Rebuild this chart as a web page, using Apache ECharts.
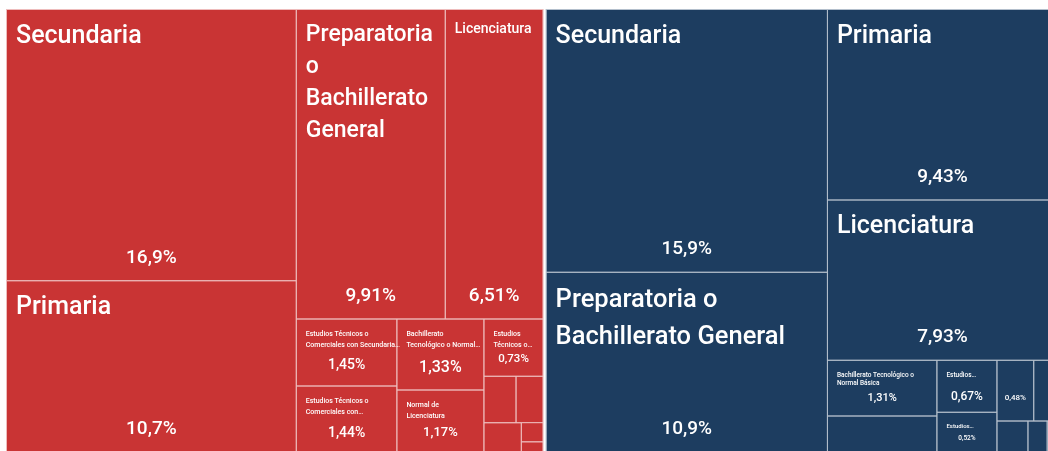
<!DOCTYPE html>
<html>
<head>
<meta charset="utf-8">
<script src="https://cdn.jsdelivr.net/npm/echarts@6/dist/echarts.min.js"></script>
<style>
html, body { margin: 0; padding: 0; background: #fff; }
#chart { width: 1048px; height: 451px; }
</style>
</head>
<body>
<div id="chart"></div>
<script>
var grupos = ['Mujeres', 'Hombres'];

var nivelesMujeres = [
    'Secundaria',
    'Primaria',
    'Preparatoria o Bachillerato General',
    'Licenciatura',
    'Estudios Técnicos o Comerciales con Secundaria Terminada',
    'Estudios Técnicos o Comerciales con Preparatoria Terminada',
    'Bachillerato Tecnológico o Normal Básica',
    'Normal de Licenciatura',
    'Estudios Técnicos o Comerciales con Primaria Terminada',
    'Maestría',
    'Preescolar',
    'Ninguno',
    'Especialidad',
    'Doctorado'
];
var valoresMujeres = [16.9, 10.7, 9.91, 6.51, 1.45, 1.44, 1.33, 1.17, 0.73, 0.32, 0.27, 0.24, 0.09, 0.05];

var nivelesHombres = [
    'Secundaria',
    'Preparatoria o Bachillerato General',
    'Primaria',
    'Licenciatura',
    'Bachillerato Tecnológico o Normal Básica',
    'Normal de Licenciatura',
    'Estudios Técnicos o Comerciales con Preparatoria Terminada',
    'Estudios Técnicos o Comerciales con Secundaria Terminada',
    'Maestría',
    'Ninguno',
    'Preescolar',
    'Especialidad',
    'Doctorado'
];
var valoresHombres = [15.9, 10.9, 9.43, 7.93, 1.31, 0.86, 0.67, 0.52, 0.48, 0.31, 0.21, 0.13, 0.07];

// texto visible de cada celda (como aparece, con cortes de linea)
var etiquetas = {
    'Mujeres|Secundaria': 'Secundaria',
    'Mujeres|Primaria': 'Primaria',
    'Mujeres|Preparatoria o Bachillerato General': 'Preparatoria\no\nBachillerato\nGeneral',
    'Mujeres|Licenciatura': 'Licenciatura',
    'Mujeres|Estudios Técnicos o Comerciales con Secundaria Terminada': 'Estudios Técnicos o\nComerciales con Secundaria…',
    'Mujeres|Estudios Técnicos o Comerciales con Preparatoria Terminada': 'Estudios Técnicos o\nComerciales con…',
    'Mujeres|Bachillerato Tecnológico o Normal Básica': 'Bachillerato\nTecnológico o Normal…',
    'Mujeres|Normal de Licenciatura': 'Normal de\nLicenciatura',
    'Mujeres|Estudios Técnicos o Comerciales con Primaria Terminada': 'Estudios\nTécnicos o…',
    'Hombres|Secundaria': 'Secundaria',
    'Hombres|Preparatoria o Bachillerato General': 'Preparatoria o\nBachillerato General',
    'Hombres|Primaria': 'Primaria',
    'Hombres|Licenciatura': 'Licenciatura',
    'Hombres|Bachillerato Tecnológico o Normal Básica': 'Bachillerato Tecnológico o\nNormal Básica',
    'Hombres|Estudios Técnicos o Comerciales con Preparatoria Terminada': 'Estudios…',
    'Hombres|Estudios Técnicos o Comerciales con Secundaria Terminada': 'Estudios…'
};

// [tam. nombre, alto linea, tam. valor, distancia valor al borde inferior]
var estilos = {
    'Mujeres|Secundaria': [25, 35, 19, 8],
    'Mujeres|Primaria': [25, 35, 19, 8],
    'Mujeres|Preparatoria o Bachillerato General': [23, 32, 19, 8],
    'Mujeres|Licenciatura': [14, 20, 19, 8],
    'Mujeres|Estudios Técnicos o Comerciales con Secundaria Terminada': [7, 10.5, 14, 8],
    'Mujeres|Estudios Técnicos o Comerciales con Preparatoria Terminada': [7, 10.5, 14, 7],
    'Mujeres|Bachillerato Tecnológico o Normal Básica': [7, 10.5, 16, 8],
    'Mujeres|Normal de Licenciatura': [7, 10.5, 13, 7.5],
    'Mujeres|Estudios Técnicos o Comerciales con Primaria Terminada': [7, 10.5, 11.5, 6],
    'Hombres|Secundaria': [25, 35, 19, 8],
    'Hombres|Preparatoria o Bachillerato General': [25.5, 37, 19, 8],
    'Hombres|Primaria': [25, 35, 19, 8],
    'Hombres|Licenciatura': [25, 35, 19, 8],
    'Hombres|Bachillerato Tecnológico o Normal Básica': [6.5, 8.5, 11, 7],
    'Hombres|Estudios Técnicos o Comerciales con Preparatoria Terminada': [6.5, 9, 12, 3.5],
    'Hombres|Estudios Técnicos o Comerciales con Secundaria Terminada': [6, 8, 6.5, 5],
    'Hombres|Maestría': [0, 0, 8, 14]
};

var colores = ['#c93434', '#1d3d60'];
var lineas = ['#eebcbc', '#b3bfcc'];
var fuente = "Roboto, 'DejaVu Sans Condensed', sans-serif";

function pct(v) {
    return String(parseFloat(v.toPrecision(3))).replace('.', ',') + '%';
}

// conValor = false -> serie de fondo con nombres; true -> capa transparente con el porcentaje
function armarDatos(conValor) {
    var listas = [[nivelesMujeres, valoresMujeres], [nivelesHombres, valoresHombres]];
    return grupos.map(function (g, gi) {
        var hijos = listas[gi][0].map(function (n, i) {
            var key = g + '|' + n;
            var e = estilos[key];
            var label;
            if (!conValor) {
                label = e && e[0] > 0 ? {
                    show: true,
                    formatter: etiquetas[key],
                    fontSize: e[0],
                    lineHeight: e[1],
                    padding: [e[0] < 12 ? 10 : 9, 9, 0, 9]
                } : { show: false };
            } else {
                label = e ? {
                    show: true,
                    formatter: pct(listas[gi][1][i]),
                    fontSize: e[2],
                    distance: e[3]
                } : { show: false };
            }
            return {
                name: n,
                value: listas[gi][1][i],
                itemStyle: { color: conValor ? 'transparent' : colores[gi] },
                label: label
            };
        });
        return {
            name: g,
            itemStyle: {
                color: conValor ? 'transparent' : colores[gi],
                borderColor: conValor ? 'transparent' : lineas[gi]
            },
            children: hijos
        };
    });
}

function serie(conValor) {
    return {
        type: 'treemap',
        left: 6,
        top: 9,
        width: 1052,
        height: 444,
        roam: false,
        nodeClick: false,
        silent: conValor,
        breadcrumb: { show: false },
        label: {
            position: conValor ? 'insideBottom' : 'insideTopLeft',
            distance: 0,
            color: '#fff',
            fontFamily: fuente,
            fontWeight: 500,
            overflow: 'none'
        },
        levels: [
            { itemStyle: { borderWidth: 0, gapWidth: 2, borderColor: conValor ? 'transparent' : '#fff' } },
            { itemStyle: { borderWidth: 1, gapWidth: 1 } },
            { itemStyle: { borderWidth: 0 } }
        ],
        data: armarDatos(conValor)
    };
}

var chart = echarts.init(document.getElementById('chart'));
chart.setOption({
    animation: false,
    series: [serie(false), serie(true)]
});
</script>
</body>
</html>
